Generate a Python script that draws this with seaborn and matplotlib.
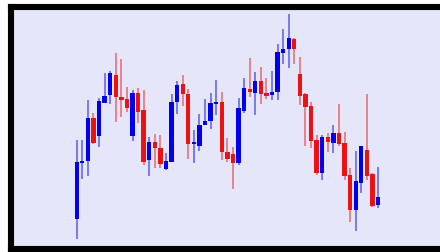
import numpy as np
import pandas as pd
import matplotlib
matplotlib.use('Agg')
import matplotlib.pyplot as plt
import seaborn as sns

# OHLC values (arbitrary price units)
opens = [31, 87, 89, 132, 114, 147, 155, 175, 153, 151, 114, 157, 140, 90, 108, 102, 81, 88, 148,
         166, 156, 106, 104, 125, 129, 146, 148, 98, 96, 87, 139, 161, 157, 169, 157, 155, 158,
         197, 201, 211, 176, 156, 144, 110, 77, 113, 107, 117, 107, 75, 40, 67, 100, 76, 45]
closes = [88, 89, 132, 107, 149, 154, 177, 153, 150, 142, 157, 138, 88, 108, 102, 86, 89, 148, 165,
          156, 106, 108, 125, 129, 147, 148, 98, 91, 87, 142, 162, 158, 169, 156, 154, 158, 198,
          201, 212, 201, 154, 143, 109, 77, 113, 108, 117, 106, 74, 40, 69, 104, 74, 44, 53]
highs = [110, 110, 150, 137, 152, 177, 179, 197, 191, 163, 160, 162, 160, 113, 116, 115, 97, 156, 169,
         175, 161, 120, 136, 151, 157, 170, 158, 112, 103, 152, 172, 192, 178, 183, 172, 179, 206,
         221, 236, 212, 193, 157, 148, 115, 115, 117, 125, 146, 118, 82, 99, 104, 156, 77, 83]
lows = [11, 71, 74, 106, 103, 147, 146, 128, 133, 138, 109, 127, 85, 74, 82, 82, 80, 88, 136,
        144, 91, 87, 99, 125, 121, 135, 90, 88, 61, 85, 137, 153, 135, 146, 151, 150, 150,
        186, 182, 186, 145, 104, 102, 75, 70, 98, 97, 104, 70, 28, 19, 57, 70, 43, 42]

df = pd.DataFrame({'open': opens, 'high': highs, 'low': lows, 'close': closes})
df['x'] = np.arange(len(df))
df['up'] = df['close'] >= df['open']

sns.set_theme(style='white')

W, H = 440, 252
fig = plt.figure(figsize=(W / 100, H / 100), dpi=100)
# axes box in pixels: left 11, right 446, top 7, bottom 249
ax = fig.add_axes([11 / W, (H - 249) / H, (446 - 11) / W, (249 - 7) / H])
ax.set_facecolor('#e6e6fa')

up_col = '#0000ee'
down_col = '#ee1111'
colors = np.where(df['up'], up_col, down_col)

# wicks
ax.vlines(df['x'], df['low'], df['high'], colors=colors, linewidth=1.1, alpha=0.6, zorder=2)
# bodies
ax.bar(df['x'], df['close'] - df['open'], bottom=df['open'], width=0.78,
       color=colors, linewidth=0, zorder=3)

# candle 0 sits at px 76.7, spacing 5.58 px
ax.set_xlim((11 - 76.7) / 5.58, (446 - 76.7) / 5.58)
ax.set_ylim(250 - 249, 250 - 7)
ax.set_xticks([])
ax.set_yticks([])
for s in ax.spines.values():
    s.set_color('black')
    s.set_linewidth(4.4)
ax.spines['right'].set_visible(False)

fig.savefig('out.png', dpi=100, facecolor='white')
